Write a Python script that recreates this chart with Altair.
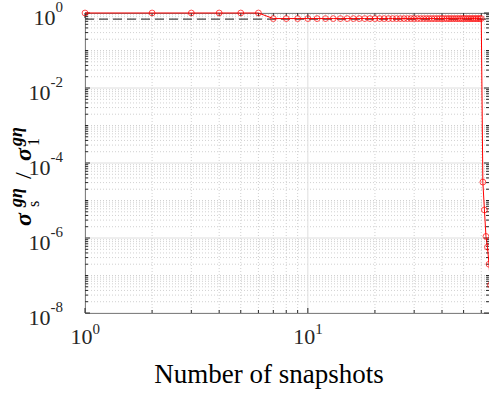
import altair as alt
import pandas as pd

# Normalised singular values sigma_s / sigma_1 against number of snapshots
snapshots = list(range(1, 67))
ratio = [
    1.0, 1.0, 1.0, 1.0, 1.0, 1.0,
    0.71, 0.71, 0.71, 0.71, 0.71, 0.71, 0.71, 0.71, 0.71, 0.71,
    0.71, 0.71, 0.71, 0.71, 0.71, 0.71, 0.71, 0.71, 0.71, 0.71,
    0.71, 0.71, 0.71, 0.71, 0.71, 0.71, 0.71, 0.71, 0.71, 0.71,
    0.71, 0.71, 0.71, 0.71, 0.71, 0.71, 0.71, 0.71, 0.71, 0.71,
    0.71, 0.71, 0.71, 0.71, 0.71, 0.71, 0.71, 0.71, 0.71, 0.71,
    0.71, 0.71, 0.71, 0.71,
    3.1e-5, 5.6e-6, 1.1e-6, 5.7e-7, 2.0e-7, 5.6e-8,
]
threshold = [0.69]

# Axis ticks
x_major = [1, 10]
x_minor = [2, 3, 4, 5, 6, 7, 8, 9, 20, 30, 40, 50, 60]
y_major = [1, 1e-2, 1e-4, 1e-6, 1e-8]
y_exponents = ["0", "-2", "-4", "-6", "-8"]
y_minor = [m * 10.0 ** k for k in range(-8, 0) for m in range(2, 10)] + [1e-1, 1e-3, 1e-5, 1e-7]
x_exponents = ["0", "1"]

W, H = 404, 300
FONT = "Liberation Serif"
INK = "#262626"

xs = alt.Scale(type="log", domain=[1, 65])
ys = alt.Scale(type="log", domain=[1e-8, 1])

data = pd.DataFrame({"n": snapshots, "r": ratio})
xmaj = pd.DataFrame({"v": x_major, "e": x_exponents})
xmin = pd.DataFrame({"v": x_minor})
ymaj = pd.DataFrame({"v": y_major, "e": y_exponents})
ymin = pd.DataFrame({"v": y_minor})
thr = pd.DataFrame({"t": threshold})


def xenc(df):
    return alt.Chart(df).encode(x=alt.X("v:Q", scale=xs, axis=None))


def yenc(df):
    return alt.Chart(df).encode(y=alt.Y("v:Q", scale=ys, axis=None))


# grid
grid_minor_x = xenc(xmin).mark_rule(color="#c4c4c4", strokeWidth=0.8, strokeDash=[1, 2]).encode(
    y=alt.value(0), y2=alt.value(H))
grid_minor_y = yenc(ymin).mark_rule(color="#c4c4c4", strokeWidth=0.8, strokeDash=[1, 2]).encode(
    x=alt.value(0), x2=alt.value(W))
grid_major_x = xenc(xmaj).mark_rule(color="#dedede", strokeWidth=1).encode(
    y=alt.value(0), y2=alt.value(H))
grid_major_y = yenc(ymaj).mark_rule(color="#dedede", strokeWidth=1).encode(
    x=alt.value(0), x2=alt.value(W))

# inward tick marks on all four sides
ticks = [
    xenc(xmaj).mark_rule(color=INK).encode(y=alt.value(H), y2=alt.value(H - 5)),
    xenc(xmin).mark_rule(color=INK).encode(y=alt.value(H), y2=alt.value(H - 3)),
    xenc(xmaj).mark_rule(color=INK).encode(y=alt.value(0), y2=alt.value(5)),
    xenc(xmin).mark_rule(color=INK).encode(y=alt.value(0), y2=alt.value(3)),
    yenc(ymaj).mark_rule(color=INK).encode(x=alt.value(0), x2=alt.value(5)),
    yenc(ymin).mark_rule(color=INK).encode(x=alt.value(0), x2=alt.value(3)),
    yenc(ymaj).mark_rule(color=INK).encode(x=alt.value(W), x2=alt.value(W - 5)),
    yenc(ymin).mark_rule(color=INK).encode(x=alt.value(W), x2=alt.value(W - 3)),
]

# dashed reference level
ref = alt.Chart(thr).mark_rule(color="#444444", strokeWidth=1.2, strokeDash=[9, 5]).encode(
    y=alt.Y("t:Q", scale=ys, axis=None), x=alt.value(0), x2=alt.value(W))

# singular value curve
line = alt.Chart(data).mark_line(color="#ff0000", strokeWidth=1).encode(
    x=alt.X("n:Q", scale=xs, axis=None), y=alt.Y("r:Q", scale=ys, axis=None))
pts = alt.Chart(data).mark_point(shape="circle", filled=False, color="#ff0000", size=34, strokeWidth=1).encode(
    x=alt.X("n:Q", scale=xs, axis=None), y=alt.Y("r:Q", scale=ys, axis=None))

# tick labels 10^k
BASE, EXP = 22, 15
ylab_one = yenc(ymaj).transform_filter("length(datum.e) == 1")
ylab_two = yenc(ymaj).transform_filter("length(datum.e) == 2")
ylabels = [
    ylab_one.mark_text(text="10", font=FONT, fontSize=BASE, color=INK, align="right", baseline="middle", dy=5).encode(
        x=alt.value(-29.5)),
    ylab_two.mark_text(text="10", font=FONT, fontSize=BASE, color=INK, align="right", baseline="middle", dy=5).encode(
        x=alt.value(-34.5)),
    yenc(ymaj).mark_text(font=FONT, fontSize=EXP, color=INK, align="right", baseline="middle", dy=-6).encode(
        x=alt.value(-22), text="e:N"),
]
xlabels = [
    xenc(xmaj).mark_text(text="10", font=FONT, fontSize=BASE, color=INK, align="left", baseline="middle", dx=-14.5).encode(
        y=alt.value(H + 24)),
    xenc(xmaj).mark_text(font=FONT, fontSize=EXP, color=INK, align="left", baseline="middle", dx=7.5).encode(
        y=alt.value(H + 16), text="e:N"),
]

# axis titles
xtitle = alt.Chart(pd.DataFrame({"t": ["Number of snapshots"]})).mark_text(
    font=FONT, fontSize=27, color="#000000", align="center", baseline="alphabetic").encode(
    text="t:N", x=alt.value(184), y=alt.value(370))


def ypiece(txt, px, py, size, style="italic", weight="bold"):
    return alt.Chart(pd.DataFrame({"t": [txt]})).mark_text(
        font=FONT, fontSize=size, fontStyle=style, fontWeight=weight, color="#000000",
        angle=270, align="left", baseline="alphabetic").encode(
        text="t:N", x=alt.value(px), y=alt.value(py))


ytitle = [
    ypiece("σ", -54, 213, 24),
    ypiece("gη", -63, 194, 18),
    ypiece("s", -46, 194, 16, style="normal", weight="normal"),
    ypiece("/", -54, 166, 24, style="normal", weight="normal"),
    ypiece("σ", -54, 148, 24),
    ypiece("gη", -63, 133, 18),
    ypiece("1", -46, 133, 16, style="normal", weight="normal"),
]

chart = alt.layer(
    grid_minor_x, grid_minor_y, grid_major_x, grid_major_y,
    *ticks, ref, line, pts, *ylabels, *xlabels, xtitle, *ytitle,
).properties(
    width=W, height=H,
    autosize=alt.AutoSizeParams(type="none"),
    padding={"left": 85, "top": 13, "right": 0, "bottom": 83},
).configure_view(stroke=INK, strokeWidth=1)

chart.save("out.html", embed_options={"renderer": "svg", "actions": False})
